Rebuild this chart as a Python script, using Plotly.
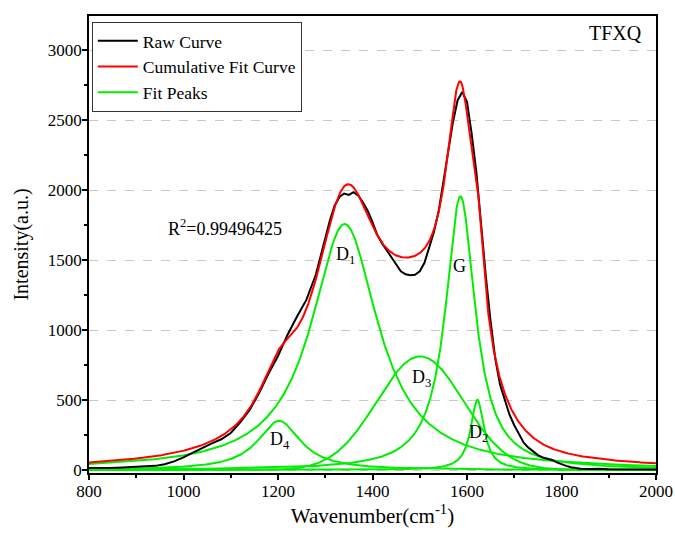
import numpy as np
import plotly.graph_objects as go

# Raw spectrum
raw_x = [800, 820, 840, 860, 880, 900, 920, 940, 960, 980, 1000, 1020, 1040, 1060, 1080,
         1100, 1120, 1140, 1160, 1180, 1200, 1220, 1240, 1260, 1280, 1300, 1310, 1320, 1330,
         1340, 1350, 1360, 1370, 1380, 1390, 1400, 1410, 1420, 1430, 1440, 1450, 1460, 1470,
         1480, 1490, 1500, 1510, 1520, 1530, 1540, 1550, 1560, 1570, 1580, 1590, 1600, 1610,
         1620, 1630, 1640, 1650, 1660, 1670, 1680, 1690, 1700, 1710, 1720, 1730, 1740, 1750,
         1760, 1770, 1780, 1790, 1800, 1810, 1820, 1840, 1860, 1880, 1900, 1920, 1940, 1960,
         1980, 2000]
raw_y = [15, 12, 14, 17, 22, 27, 28, 30, 42, 62, 90, 125, 160, 190, 220,
         265, 340, 430, 550, 690, 815, 965, 1095, 1215, 1395, 1660, 1785, 1890, 1950,
         1975, 1965, 1985, 1960, 1910, 1850, 1770, 1680, 1620, 1570, 1520, 1470, 1420, 1398,
         1392, 1395, 1420, 1480, 1600, 1700, 1850, 2050, 2280, 2480, 2640, 2700, 2630, 2400,
         2120, 1720, 1380, 1060, 790, 610, 500, 395, 320, 255, 195, 160, 130, 107,
         90, 82, 72, 55, 40, 30, 20, 10, 8, 10, 6, 5, 4, 3,
         5, 4]

# Fitted peaks (parameters); L = Lorentzian, G = Gaussian
peak_names = ["D4", "D1", "D3", "G", "D2"]
peak_shapes = ["L", "L", "G", "L", "L"]
peak_centers = [1202, 1341, 1501, 1586, 1622]
peak_heights = [352, 1757, 812, 1955, 503]
peak_fwhm = [110, 172, 216, 76, 34]

label_text = ["D<sub>4</sub>", "D<sub>1</sub>", "D<sub>3</sub>", "G", "D<sub>2</sub>"]
label_x = [1204, 1343, 1503, 1585, 1624]
label_y = [212, 1534, 655, 1457, 262]

xg = np.linspace(800, 2000, 1201)
peaks = []
for s, c, h, w in zip(peak_shapes, peak_centers, peak_heights, peak_fwhm):
    if s == "L":
        peaks.append(h / (1 + ((xg - c) / (w / 2)) ** 2))
    else:
        peaks.append(h * np.exp(-4 * np.log(2) * ((xg - c) / w) ** 2))
cum = np.sum(peaks, axis=0)

FONT = "Liberation Serif, Times New Roman, serif"
fig = go.Figure()
for i, p in enumerate(peaks):
    fig.add_trace(go.Scatter(x=xg, y=p, mode="lines", line=dict(color="#00ee00", width=2),
                             name="Fit Peaks", showlegend=(i == 0), legendrank=3))
fig.add_trace(go.Scatter(x=raw_x, y=raw_y, mode="lines", line=dict(color="black", width=2),
                         name="Raw Curve", legendrank=1))
fig.add_trace(go.Scatter(x=xg, y=cum, mode="lines", line=dict(color="#ff0000", width=2),
                         name="Cumulative Fit Curve", legendrank=2))

for t, x, y in zip(label_text, label_x, label_y):
    fig.add_annotation(x=x, y=y, text=t, showarrow=False,
                       font=dict(family=FONT, size=18, color="black"))
fig.add_annotation(x=1087, y=1736, text="R<sup>2</sup>=0.99496425", showarrow=False,
                   font=dict(family=FONT, size=18, color="black"))
fig.add_annotation(x=1915, y=3121, text="TFXQ", showarrow=False,
                   font=dict(family=FONT, size=20, color="black"))

fig.update_layout(
    width=675, height=533,
    margin=dict(l=89, r=19, t=16, b=60),
    paper_bgcolor="white", plot_bgcolor="white",
    font=dict(family=FONT, size=17, color="black"),
    showlegend=True,
    legend=dict(x=0.005, y=0.987, xanchor="left", yanchor="top",
                bordercolor="#333", borderwidth=1, bgcolor="white",
                font=dict(family=FONT, size=17.5), tracegroupgap=0,
                itemwidth=40, traceorder="normal"),
    xaxis=dict(range=[800, 2000], dtick=200, tick0=800, showgrid=False, zeroline=False,
               automargin=False,
               showline=True, linecolor="black", linewidth=1.5, mirror=True,
               ticks="outside", ticklen=5, tickwidth=1.5, tickcolor="black",
               ticklabelstandoff=-3,
               minor=dict(dtick=100, ticks="outside", ticklen=3, tickcolor="black", showgrid=False),
               title=dict(text="Wavenumber(cm<sup>-1</sup>)", font=dict(family=FONT, size=21), standoff=5),
               tickfont=dict(family=FONT, size=17)),
    yaxis=dict(range=[-21, 3243], dtick=500, tick0=0, showgrid=True, gridcolor="#c8c8c8",
               griddash="dash", gridwidth=1, zeroline=False, automargin=False,
               showline=True, linecolor="black", linewidth=1.5, mirror=True,
               ticks="outside", ticklen=5, tickwidth=1.5, tickcolor="black",
               ticklabelstandoff=-3,
               minor=dict(dtick=250, ticks="outside", ticklen=3, tickcolor="black", showgrid=False),
               title=dict(text="Intensity(a.u.)", font=dict(family=FONT, size=20), standoff=14),
               tickfont=dict(family=FONT, size=17)),
)
fig.write_html("out.html", config={"displayModeBar": False},
               post_script="document.body.style.margin='0';document.body.style.overflow='hidden';")
